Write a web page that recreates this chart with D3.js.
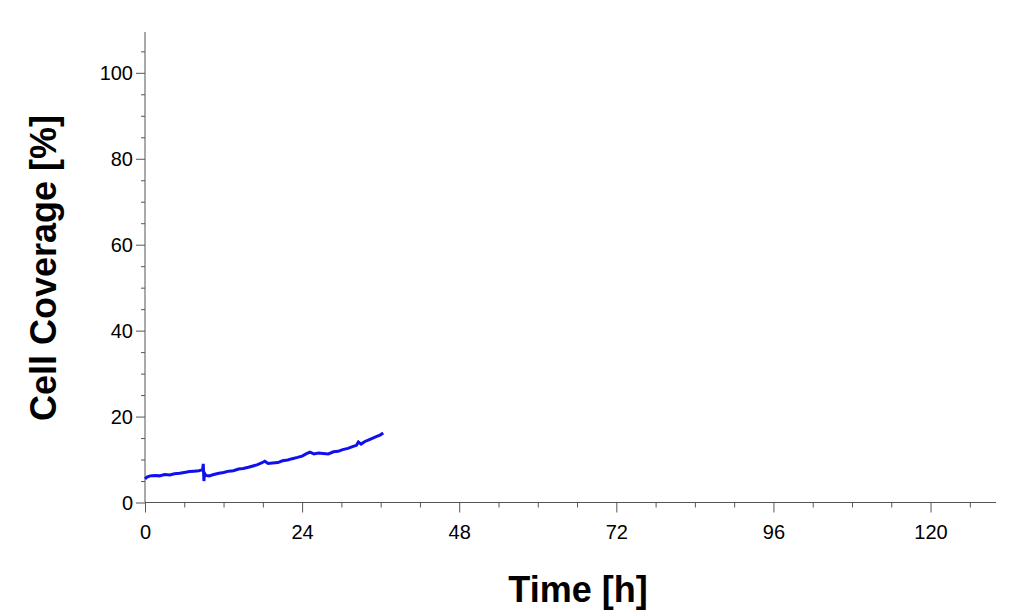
<!DOCTYPE html>
<html><head><meta charset="utf-8">
<script src="https://cdn.jsdelivr.net/npm/d3@7"></script>
<style>body{margin:0;background:#fff}svg{font-family:"Liberation Sans",Arial,sans-serif}</style>
</head><body><svg id="c" width="1024" height="612"></svg>
<script>
const timeH = [0,0.3,0.8,1.5,2.2,3,3.8,4.5,5.3,6,6.8,7.5,8.2,8.8,8.9,9.0,9.1,9.3,9.8,10.5,11.3,12,12.8,13.5,14.3,15,15.8,16.5,17.2,17.8,18.3,18.8,19.5,20.3,21,21.8,22.5,23.3,24,24.6,25.2,25.8,26.5,27.2,28,28.8,29.5,30.2,31,31.7,32.3,32.6,33,33.6,34.2,34.8,35.4,35.9,36.4];
const coverage = [5.5,5.9,6.2,6.3,6.2,6.5,6.4,6.7,6.8,7.0,7.2,7.3,7.4,7.6,9.0,5.0,6.8,6.3,6.2,6.5,6.8,7.0,7.3,7.4,7.8,7.9,8.2,8.5,8.8,9.2,9.6,9.1,9.2,9.3,9.7,9.9,10.2,10.5,10.8,11.3,11.7,11.3,11.5,11.4,11.3,11.8,11.9,12.3,12.6,13.0,13.3,14.1,13.6,14.2,14.6,15.0,15.4,15.7,16.2];
const xTicks = [0,24,48,72,96,120];
const yTicks = [0,20,40,60,80,100];

const svg = d3.select("#c");
const x = d3.scaleLinear().domain([0,130]).range([145,996]);
const y = d3.scaleLinear().domain([0,109.5]).range([502.5,32]);

const xa = svg.append("g").attr("transform","translate(0,502.5)");
xa.call(d3.axisBottom(x).tickValues(d3.range(0,130,6)).tickSize(5).tickFormat(""));
xa.call(g=>g.selectAll(".tick").filter(d=>d%24===0).select("line").attr("y2",10));
xa.selectAll(".tick").filter(d=>d%24===0).append("text").attr("y",36).attr("fill","#000")
  .attr("text-anchor","middle").style("font-size","20px").text(d=>d);
xa.select(".domain").attr("stroke","#555").attr("d","M145,0H996");
xa.selectAll("line").attr("stroke","#555");

const ya = svg.append("g").attr("transform","translate(145,0)");
ya.call(d3.axisLeft(y).tickValues(d3.range(0,110,5)).tickSize(4).tickFormat(""));
ya.selectAll(".tick").filter(d=>d%20===0).select("line").attr("x2",-9);
ya.selectAll(".tick").filter(d=>yTicks.includes(d)).append("text").attr("x",-12).attr("dy","0.35em")
  .attr("fill","#000").attr("text-anchor","end").style("font-size","20px").text(d=>d);
ya.select(".domain").attr("stroke","#555").attr("d","M0,32V502.5");
ya.selectAll("line").attr("stroke","#555");

svg.append("path").datum(timeH.map((t,i)=>[t,coverage[i]]))
  .attr("fill","none").attr("stroke","#1010ee").attr("stroke-width",3)
  .attr("d",d3.line().x(d=>x(d[0])).y(d=>y(d[1])));

svg.append("text").attr("x",578).attr("y",602).attr("text-anchor","middle")
  .style("font-size","36px").style("font-weight","bold").text("Time [h]");
svg.append("text").attr("transform","translate(56,268) rotate(-90)").attr("text-anchor","middle")
  .style("font-size","36px").style("font-weight","bold").text("Cell Coverage [%]");
</script></body></html>
